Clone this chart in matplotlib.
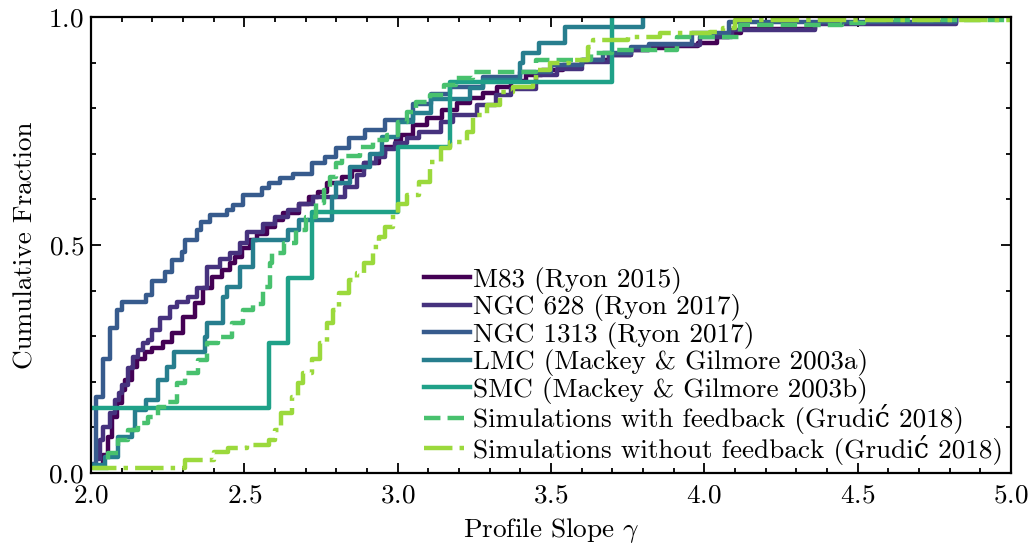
import numpy as np
import matplotlib
matplotlib.use("Agg")
import matplotlib.pyplot as plt

plt.rcParams['font.family'] = ['cmr10', 'DejaVu Serif']
plt.rcParams['mathtext.fontset'] = 'cm'
plt.rcParams['axes.formatter.use_mathtext'] = True
plt.rcParams['font.size'] = 19.6

# cumulative distributions: (slope, fraction) at each step
m83_x = [2.03, 2.04, 2.056, 2.068, 2.084, 2.10, 2.111, 2.133, 2.15, 2.175, 2.20, 2.236, 2.265,
         2.30, 2.34, 2.365, 2.394, 2.427, 2.453, 2.47, 2.491, 2.52, 2.54, 2.573, 2.60, 2.627,
         2.68, 2.71, 2.74, 2.77, 2.82, 2.85, 2.89, 2.94, 2.96, 2.995, 3.01, 3.05, 3.095, 3.144,
         3.193, 3.236, 3.28, 3.323, 3.37, 3.42, 3.47, 3.54, 3.60, 3.69, 3.76, 3.82, 3.90, 3.98,
         4.04, 4.08, 4.12, 4.36, 4.82]
m83_y = [0.013, 0.04, 0.08, 0.123, 0.153, 0.182, 0.204, 0.233, 0.25, 0.266, 0.274, 0.287, 0.307,
         0.342, 0.372, 0.405, 0.43, 0.445, 0.46, 0.474, 0.493, 0.51, 0.525, 0.539, 0.555, 0.57,
         0.59, 0.605, 0.616, 0.635, 0.65, 0.665, 0.68, 0.70, 0.715, 0.73, 0.741, 0.763, 0.778, 0.796,
         0.811, 0.822, 0.833, 0.846, 0.86, 0.873, 0.884, 0.895, 0.906, 0.917, 0.927, 0.932, 0.937, 0.942,
         0.955, 0.965, 0.974, 0.986, 1.0]

n628_x = [2.02, 2.03, 2.04, 2.062, 2.078, 2.09, 2.10, 2.12, 2.138, 2.155, 2.17, 2.186, 2.20, 2.225,
          2.258, 2.28, 2.317, 2.345, 2.38, 2.42, 2.453, 2.486, 2.51, 2.56, 2.60, 2.643, 2.68, 2.725,
          2.83, 2.866, 2.89, 2.93, 2.96, 2.99, 3.03, 3.07, 3.14, 3.18, 3.26, 3.32, 3.37, 3.45, 3.52,
          3.60, 3.69, 3.76, 3.82, 3.985, 4.09, 4.36, 4.82]
n628_y = [0.03, 0.072, 0.10, 0.131, 0.16, 0.175, 0.193, 0.23, 0.254, 0.27, 0.285, 0.292, 0.313, 0.34,
          0.364, 0.375, 0.386, 0.405, 0.452, 0.47, 0.482, 0.504, 0.528, 0.547, 0.562, 0.577, 0.59, 0.606,
          0.627, 0.653, 0.68, 0.693, 0.71, 0.724, 0.735, 0.748, 0.77, 0.785, 0.807, 0.829, 0.842, 0.873, 0.886,
          0.901, 0.917, 0.928, 0.939, 0.956, 0.971, 0.985, 1.0]

n1313_x = [2.01, 2.018, 2.038, 2.062, 2.085, 2.10, 2.18, 2.20, 2.24, 2.263, 2.297, 2.307, 2.345, 2.36,
           2.388, 2.443, 2.463, 2.497, 2.557, 2.579, 2.616, 2.66, 2.72, 2.763, 2.80, 2.84, 2.893, 2.96,
           3.05, 3.11, 3.17, 3.28, 3.40, 3.50, 3.60, 3.67, 3.76, 3.82, 3.96, 4.08, 4.82]
n1313_y = [0.02, 0.167, 0.25, 0.318, 0.357, 0.374, 0.39, 0.42, 0.44, 0.467, 0.485, 0.511, 0.533, 0.55,
           0.566, 0.577, 0.588, 0.609, 0.625, 0.636, 0.647, 0.656, 0.68, 0.693, 0.713, 0.735, 0.752, 0.774,
           0.81, 0.83, 0.846, 0.868, 0.88, 0.895, 0.905, 0.92, 0.935, 0.94, 0.965, 0.989, 1.0]

lmc_x = [2.006, 2.046, 2.089, 2.133, 2.143, 2.18, 2.22, 2.247, 2.272, 2.372, 2.38, 2.43, 2.443, 2.486,
         2.53, 2.643, 2.68, 2.785, 2.80, 2.845, 2.91, 2.95, 3.00, 3.05, 3.11, 3.236, 3.28, 3.40, 3.41,
         3.46, 3.546, 3.80]
lmc_y = [0.018, 0.036, 0.080, 0.094, 0.138, 0.16, 0.204, 0.233, 0.266, 0.298, 0.329, 0.386, 0.408, 0.452,
         0.51, 0.533, 0.555, 0.606, 0.636, 0.671, 0.70, 0.737, 0.77, 0.79, 0.82, 0.845, 0.862, 0.899, 0.92,
         0.943, 0.978, 1.0]

smc_vals = [1.98, 2.58, 2.643, 2.72, 3.00, 3.17, 3.70]

fb_x = [2.006, 2.056, 2.088, 2.12, 2.153, 2.186, 2.22, 2.247, 2.28, 2.307, 2.35, 2.38, 2.414, 2.46,
        2.497, 2.53, 2.56, 2.585, 2.59, 2.63, 2.67, 2.70, 2.735, 2.76, 2.78, 2.80, 2.82, 2.877, 2.92,
        2.965, 3.0, 3.03, 3.06, 3.105, 3.15, 3.19, 3.245, 3.45, 3.63, 3.70, 3.91, 4.116, 4.45, 4.52, 5.0]
fb_y = [0.01, 0.043, 0.072, 0.094, 0.109, 0.123, 0.145, 0.156, 0.197, 0.219, 0.248, 0.285, 0.298, 0.329,
        0.357, 0.37, 0.408, 0.46, 0.482, 0.504, 0.533, 0.562, 0.592, 0.62, 0.65, 0.68, 0.695, 0.715, 0.73,
        0.741, 0.77, 0.791, 0.813, 0.829, 0.851, 0.866, 0.879, 0.905, 0.92, 0.928, 0.956, 0.982, 0.986, 0.993, 1.0]

nofb_x = [1.99, 2.307, 2.40, 2.447, 2.51, 2.58, 2.60, 2.62, 2.655, 2.675, 2.69, 2.72, 2.747, 2.77,
          2.79, 2.81, 2.84, 2.866, 2.89, 2.92, 2.94, 2.96, 2.985, 3.0, 3.03, 3.07, 3.105, 3.14, 3.17,
          3.225, 3.245, 3.29, 3.335, 3.376, 3.44, 3.45, 3.497, 3.56, 3.62, 3.637, 3.75, 3.855, 4.02,
          4.06, 4.10, 5.0]
nofb_y = [0.01, 0.029, 0.047, 0.054, 0.061, 0.072, 0.094, 0.131, 0.167, 0.197, 0.219, 0.25, 0.285, 0.329,
          0.357, 0.395, 0.423, 0.438, 0.46, 0.496, 0.518, 0.54, 0.57, 0.59, 0.61, 0.638, 0.682, 0.713, 0.726,
          0.748, 0.785, 0.807, 0.835, 0.846, 0.855, 0.884, 0.899, 0.906, 0.934, 0.95, 0.956, 0.965, 0.967,
          0.976, 0.993, 1.0]

labels = ["M83 (Ryon 2015)", "NGC 628 (Ryon 2017)", "NGC 1313 (Ryon 2017)",
          "LMC (Mackey & Gilmore 2003a)", "SMC (Mackey & Gilmore 2003b)",
          "Simulations with feedback (Grudić 2018)", "Simulations without feedback (Grudić 2018)"]

cols = plt.cm.viridis(np.linspace(0, 0.85, 7))

smc_y = np.arange(1, len(smc_vals) + 1) / len(smc_vals)
series = [(m83_x, m83_y), (n628_x, n628_y), (n1313_x, n1313_y), (lmc_x, lmc_y),
          (smc_vals, smc_y), (fb_x, fb_y), (nofb_x, nofb_y)]
styles = ['-', '-', '-', '-', '-', '--', '-.']

fig = plt.figure(figsize=(10.29, 5.44), dpi=100)
ax = fig.add_axes([0.0884, 0.1305, 0.894, 0.8383])

for (xs, ys), lab, c, ls in zip(series, labels, cols, styles):
    ax.step(xs, ys, where='post', color=c, lw=3.2, ls=ls, label=lab)

ax.set_xlim(2.0, 5.0)
ax.set_ylim(0.0, 1.0)
ax.set_xticks([2.0, 2.5, 3.0, 3.5, 4.0, 4.5, 5.0])
ax.set_yticks([0.0, 0.5, 1.0])
ax.set_xticks(np.arange(2.0, 5.01, 0.1), minor=True)
ax.set_yticks(np.arange(0.0, 1.01, 0.1), minor=True)
ax.tick_params(which='both', direction='in', top=True, right=True, width=1.3)
ax.tick_params(which='major', length=7)
ax.tick_params(which='minor', length=3.5)
ax.tick_params(axis='x', pad=8)
ax.tick_params(axis='y', pad=5)
for s in ax.spines.values():
    s.set_linewidth(1.6)

ax.set_xlabel(r"Profile Slope $\gamma$", labelpad=6)
ax.set_ylabel("Cumulative Fraction", labelpad=8)

ax.legend(loc='lower right', frameon=False, handlelength=1.7, handletextpad=0.1,
          labelspacing=0.02, borderaxespad=0.2, borderpad=0.1)

fig.savefig("out.png", dpi=100)
